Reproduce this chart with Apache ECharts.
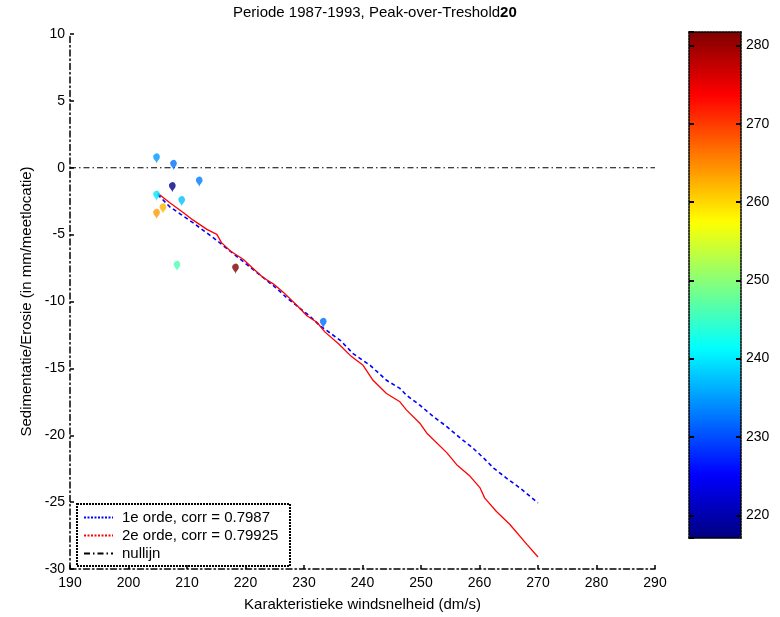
<!DOCTYPE html>
<html>
<head>
<meta charset="utf-8">
<script src="https://cdn.jsdelivr.net/npm/echarts@6/dist/echarts.min.js"></script>
<style>
  html, body { margin: 0; padding: 0; background: #fff; }
  #chart { width: 780px; height: 617px; }
</style>
</head>
<body>
<div id="chart"></div>
<script>
// meetpunten: [windsnelheid, sedimentatie, windrichting]
var puntenX = [204.8, 207.7, 207.5, 212.1, 204.8, 209.1, 205.9, 204.8, 208.3, 218.3, 233.3];
var puntenY = [0.3, -0.2, -1.85, -1.45, -2.5, -2.9, -3.45, -3.85, -7.75, -7.95, -12.0];
var richting = [234.9, 232.4, 217.5, 233.0, 240.0, 237.3, 262.3, 264.0, 246.2, 281.6, 232.0];

// 1e orde fit
var orde1X = [205, 207, 209, 211, 213, 215, 217, 219, 221, 223, 225, 227, 229, 231, 232.7,
  236.2, 238.4, 241.3, 244.1, 246.4, 247.5, 249.8, 252.1, 254.4, 256.7, 258.9, 260.7, 262.4, 264.6, 266.9, 270];
var orde1Y = [-2.0, -2.9, -3.5, -4.1, -4.75, -5.4, -6.1, -6.8, -7.5, -8.2, -8.9, -9.7, -10.4, -11.1, -11.8,
  -12.9, -13.9, -14.77, -15.89, -16.5, -17.0, -17.75, -18.6, -19.35, -20.2, -20.97, -21.7, -22.45, -23.2, -23.94, -25.06];

// 2e orde fit
var orde2X = [205, 207, 209.4, 211, 213.4, 215.1, 215.9, 217.4, 219.6, 221.3, 223, 224.8, 226.5, 228.8, 230.5, 232.2,
  233.6, 235.9, 237.9, 240.1, 241.8, 244.1, 246.4, 247.5, 249.8, 251, 254.4, 256.1, 258.4, 260.1, 260.9, 262.9, 265.2, 268.1, 270];
var orde2Y = [-1.9, -2.6, -3.37, -3.9, -4.61, -4.98, -5.6, -6.22, -6.84, -7.53, -8.2, -8.7, -9.32, -10.3, -11.06, -11.55,
  -12.29, -13.16, -14.03, -14.77, -15.89, -16.88, -17.5, -18.1, -19.1, -19.85, -21.3, -22.2, -23.07, -23.94, -24.7, -25.7, -26.67, -28.16, -29.1];

var nulX = [190, 290];
var nulY = [0, 0];

var legendNamen = ['1e orde, corr = 0.7987', '2e orde, corr = 0.79925', 'nullijn'];
var kleurMin = 217.1, kleurMax = 281.7;
var jet = ['#000080', '#0000ff', '#0080ff', '#00ffff', '#80ff80', '#ffff00', '#ff8000', '#ff0000', '#800000'];

function paren(xs, ys, extra) {
  return xs.map(function (x, i) { return extra ? [x, ys[i], extra[i]] : [x, ys[i]]; });
}

var myChart = echarts.init(document.getElementById('chart'));
var font = 'Liberation Sans, Arial, sans-serif';
var dashDot = [6, 3, 1.5, 3];
var stippel = [2, 1];
var fs = 15, fsTick = 14;

var option = {
  backgroundColor: '#fff',
  animation: false,
  textStyle: { fontFamily: font },
  title: {
    text: '{a|Periode 1987-1993, Peak-over-Treshold}{b|20}',
    left: 233, top: 5, padding: 0,
    textStyle: {
      fontWeight: 'normal',
      rich: {
        a: { fontSize: fs, color: '#000', fontWeight: 'normal', fontFamily: font },
        b: { fontSize: fs, color: '#000', fontWeight: 'bold', fontFamily: font }
      }
    }
  },
  legend: {
    data: [
      { name: legendNamen[0], lineStyle: { type: [2, 1.5] } },
      { name: legendNamen[1], lineStyle: { type: [2, 1.5] } },
      { name: legendNamen[2] }
    ],
    orient: 'vertical',
    left: 83, top: 510,
    itemWidth: 29, itemHeight: 6, itemGap: 3,
    padding: 0,
    itemStyle: { opacity: 0 },
    textStyle: { fontSize: fs, color: '#000', fontFamily: font, padding: [0, 0, 0, 4] }
  },
  graphic: [{
    type: 'rect',
    shape: { x: 77, y: 504, width: 213, height: 62 },
    style: { fill: 'none', stroke: '#000', lineWidth: 2, lineDash: stippel },
    z: 5
  }],
  visualMap: {
    type: 'continuous',
    min: kleurMin, max: kleurMax,
    dimension: 2,
    seriesIndex: 2,
    calculable: false,
    left: 689, top: 32,
    itemWidth: 52, itemHeight: 506,
    padding: 0,
    text: null,
    inRange: { color: jet }
  },
  grid: [
    { left: 70, right: 125, top: 34, bottom: 45 },
    { left: 689, top: 32, width: 52, height: 506 }
  ],
  xAxis: [{
    type: 'value', min: 190, max: 290, interval: 10,
    name: 'Karakteristieke windsnelheid (dm/s)',
    nameLocation: 'middle', nameGap: 28,
    nameTextStyle: { fontSize: fs, color: '#000' },
    axisLine: { onZero: false, lineStyle: { color: '#000', width: 1.5, type: dashDot } },
    axisTick: { inside: true, length: 4, lineStyle: { color: '#000', width: 1.5 } },
    axisLabel: { color: '#000', fontSize: fsTick, margin: 7 },
    splitLine: { show: false }
  }, {
    gridIndex: 1, type: 'value', min: 0, max: 1, position: 'bottom', z: 10,
    axisLine: { onZero: false, lineStyle: { color: '#000', width: 1.5, type: stippel } },
    axisTick: { show: false }, axisLabel: { show: false }, splitLine: { show: false }
  }, {
    gridIndex: 1, type: 'value', min: 0, max: 1, position: 'top', z: 10,
    axisLine: { onZero: false, lineStyle: { color: '#000', width: 1.5, type: stippel } },
    axisTick: { show: false }, axisLabel: { show: false }, splitLine: { show: false }
  }],
  yAxis: [{
    type: 'value', min: -30, max: 10, interval: 5,
    name: 'Sedimentatie/Erosie (in mm/meetlocatie)',
    nameLocation: 'middle', nameGap: 36,
    nameTextStyle: { fontSize: fs, color: '#000' },
    axisLine: { onZero: false, lineStyle: { color: '#000', width: 1.5, type: dashDot } },
    axisTick: { inside: true, length: 4, lineStyle: { color: '#000', width: 1.5 } },
    axisLabel: { color: '#000', fontSize: fsTick, margin: 5 },
    splitLine: { show: false }
  }, {
    gridIndex: 1, type: 'value', min: kleurMin, max: kleurMax, position: 'left', z: 10,
    axisLine: { onZero: false, lineStyle: { color: '#000', width: 1.5, type: stippel } },
    axisTick: { inside: true, length: 5, lineStyle: { color: '#000', width: 2 } },
    axisLabel: { show: false }, splitLine: { show: false }
  }, {
    gridIndex: 1, type: 'value', min: kleurMin, max: kleurMax, position: 'right', z: 10,
    axisLine: { onZero: false, lineStyle: { color: '#000', width: 1.5, type: stippel } },
    axisTick: { inside: true, length: 5, lineStyle: { color: '#000', width: 2 } },
    axisLabel: { color: '#000', fontSize: fsTick, margin: 5, showMinLabel: false, showMaxLabel: false },
    splitLine: { show: false }
  }],
  series: [{
    name: legendNamen[0], type: 'line',
    data: paren(orde1X, orde1Y),
    symbol: 'none',
    lineStyle: { color: '#0000ff', width: 1.6, type: [4, 3] },
    itemStyle: { color: '#0000ff' },
    z: 3
  }, {
    name: legendNamen[1], type: 'line',
    data: paren(orde2X, orde2Y),
    symbol: 'none',
    lineStyle: { color: '#ff0000', width: 1.3, type: 'solid' },
    itemStyle: { color: '#ff0000' },
    z: 4
  }, {
    name: 'meetpunten', type: 'scatter',
    data: paren(puntenX, puntenY, richting),
    symbol: 'pin', symbolSize: [11, 12],
    z: 5
  }, {
    name: legendNamen[2], type: 'line',
    data: paren(nulX, nulY),
    symbol: 'none',
    lineStyle: { color: '#000', width: 1.2, type: dashDot },
    itemStyle: { color: '#000' },
    z: 2
  }]
};

myChart.setOption(option);
</script>
</body>
</html>
